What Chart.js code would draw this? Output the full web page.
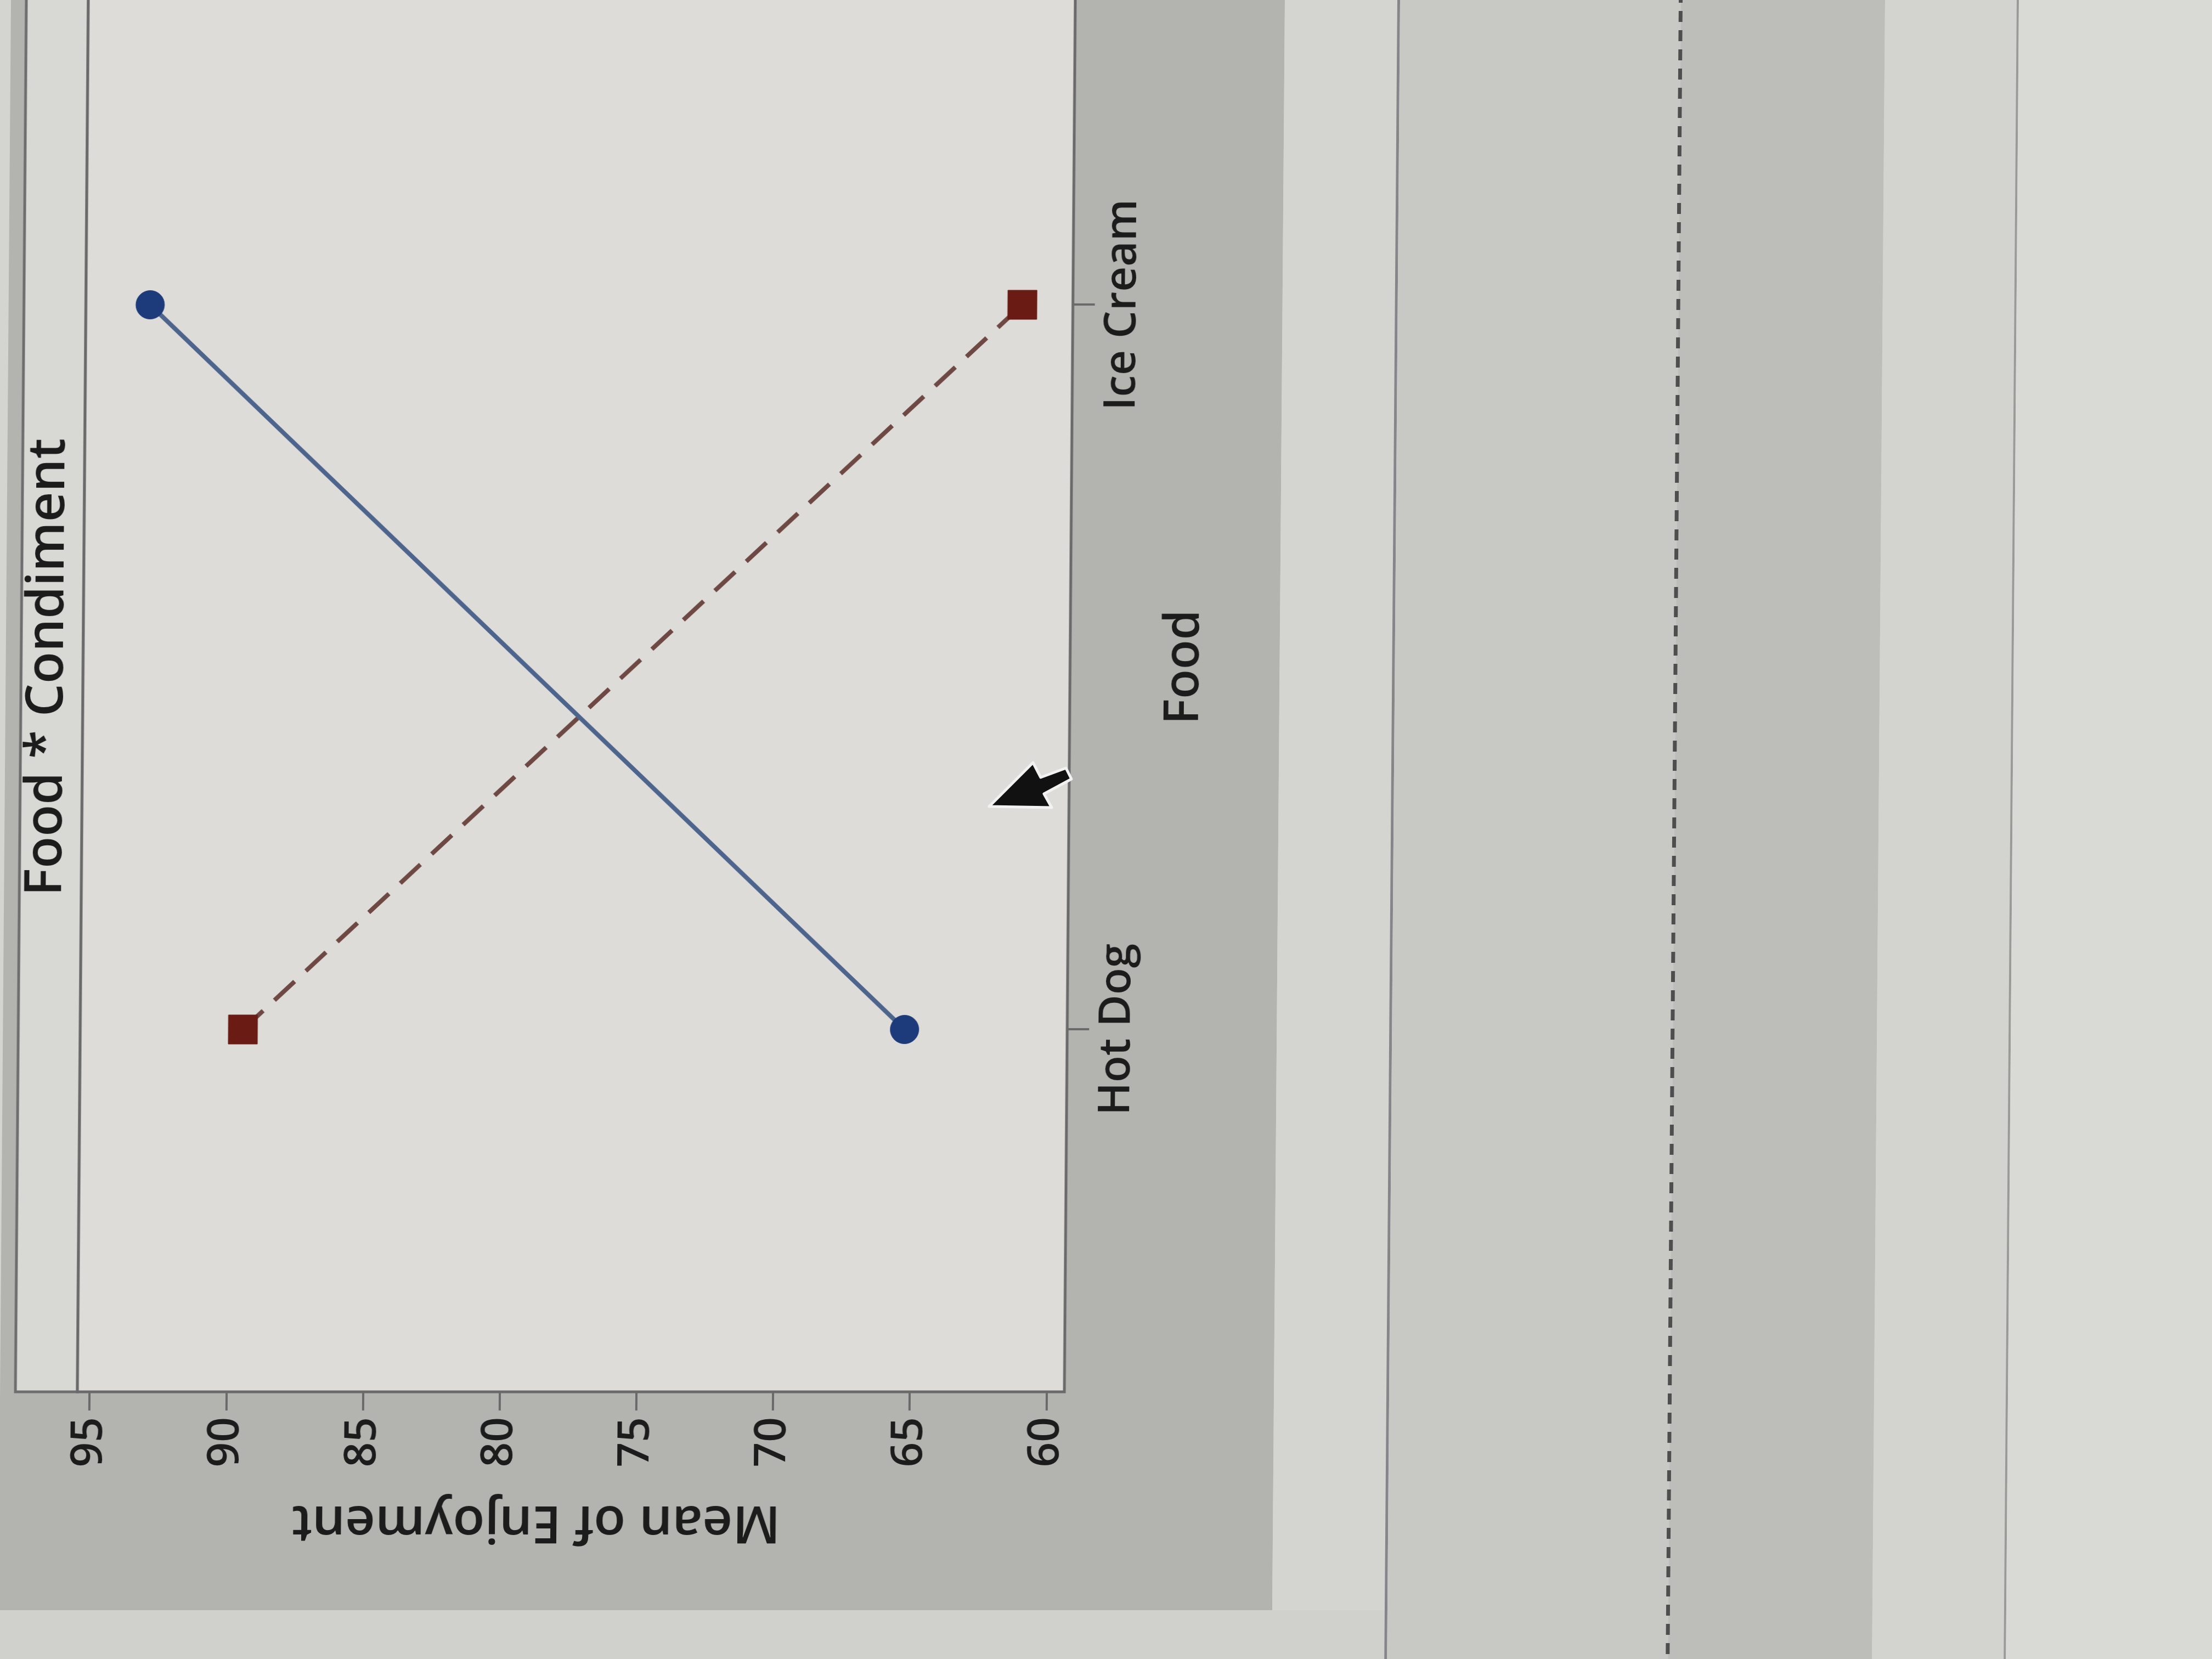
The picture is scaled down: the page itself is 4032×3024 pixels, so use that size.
<!DOCTYPE html>
<html>
<head>
<meta charset="utf-8">
<script src="https://cdn.jsdelivr.net/npm/chart.js@4.4.0/dist/chart.umd.min.js"></script>
<style>
  html, body { margin: 0; padding: 0; width: 4032px; height: 3024px; overflow: hidden; background: #d4d4d0; }
  #scene { position: absolute; left: 0; top: 0; width: 4032px; height: 3024px; transform-origin: 0 2550px; transform: skewX(-0.45deg); }
  .blk { position: absolute; }
  #chartCanvas { position: absolute; left: 0; top: 2935px; transform-origin: 0 0; transform: rotate(-90deg); background: #b3b3af; }
</style>
</head>
<body>
<div id="scene">
  <div class="blk" style="left:0;top:2935px;width:2530px;height:200px;background:#d0d0cc;"></div>
  <div class="blk" style="left:2527px;top:-50px;width:5px;height:3200px;background:#86868a;"></div>
  <div class="blk" style="left:2532px;top:-50px;width:512px;height:3200px;background:#c8c8c4;"></div>
  <div class="blk" style="left:3044px;top:-50px;width:372px;height:3200px;background:#bdbdb9;"></div>
  <div class="blk" style="left:3040px;top:-50px;width:7px;height:3200px;background:repeating-linear-gradient(to bottom,#4e4e4e 0 20px,transparent 20px 35px);"></div>
  <div class="blk" style="left:3416px;top:-50px;width:240px;height:3200px;background:#d3d3cf;"></div>
  <div class="blk" style="left:3656px;top:-50px;width:4px;height:3200px;background:#9a9a98;"></div>
  <div class="blk" style="left:3660px;top:-50px;width:400px;height:3200px;background:#d9d9d5;"></div>
  <canvas id="chartCanvas" width="3438" height="2322"></canvas>
</div>
<svg style="position:absolute;left:0;top:0" width="4032" height="3024">
  <polygon points="1803,1470 1883,1390 1897,1417 1943,1400 1953,1420 1903,1447 1917,1472" fill="#111" stroke="#f2f2f2" stroke-width="5" stroke-linejoin="round"/>
</svg>
<script>
// ---- data ----
const foods = ['Hot Dog', 'Ice Cream'];
const chocolateSauce = [65.3, 93.1];
const mustard = [89.5, 61.2];
const yTicks = [60, 65, 70, 75, 80, 85, 90, 95];
const titleText = 'Food * Condiment';
const xTitle = 'Food';
const yTitle = '     Mean of Enjoyment';

const FONT = "'Open Sans', 'Noto Sans', sans-serif";
const TXT = '#1c1c1c';

const panelPlugin = {
  id: 'panel',
  beforeDraw(chart) {
    const {ctx, chartArea: a} = chart;
    ctx.save();
    // title strip
    ctx.fillStyle = '#d8d8d4';
    ctx.fillRect(a.left, 28, a.right - a.left, a.top - 28);
    ctx.strokeStyle = '#6e6e6e';
    ctx.lineWidth = 5;
    ctx.strokeRect(a.left, 28, a.right - a.left, a.top - 28);
    // plot area
    ctx.fillStyle = '#dddcd8';
    ctx.fillRect(a.left, a.top, a.right - a.left, a.bottom - a.top);
    ctx.restore();
  },
  beforeDatasetsDraw(chart) {
    const {ctx, chartArea: a} = chart;
    ctx.save();
    ctx.strokeStyle = '#6a6a6a';
    ctx.lineWidth = 5;
    ctx.strokeRect(a.left, a.top, a.right - a.left, a.bottom - a.top);
    ctx.restore();
  }
};

new Chart(document.getElementById('chartCanvas'), {
  type: 'line',
  data: {
    labels: foods,
    datasets: [
      {
        label: 'Chocolate Sauce',
        data: chocolateSauce,
        yAxisID: 'y',
        borderColor: '#4d648c',
        borderWidth: 8,
        pointStyle: 'circle',
        pointRadius: 26,
        pointBackgroundColor: '#1d3a7a',
        pointBorderColor: '#1d3a7a',
        pointBorderWidth: 1,
        tension: 0
      },
      {
        label: 'Mustard',
        data: mustard,
        yAxisID: 'y',
        borderColor: '#6e4842',
        borderWidth: 8,
        borderDash: [50, 28],
        pointStyle: 'rect',
        pointRadius: 37.5,
        pointBackgroundColor: '#6a1b14',
        pointBorderColor: '#6a1b14',
        pointBorderWidth: 1,
        tension: 0
      }
    ]
  },
  options: {
    responsive: false,
    animation: false,
    devicePixelRatio: 1,
    layout: { padding: 0 },
    plugins: {
      legend: { display: false },
      tooltip: { enabled: false },
      title: {
        display: true,
        text: titleText,
        color: TXT,
        font: { family: FONT, size: 95, weight: '600', lineHeight: 1.2 },
        padding: { top: 20, bottom: 7 }
      }
    },
    scales: {
      x: {
        type: 'category',
        offset: true,
        border: { display: false },
        grid: { display: true, drawOnChartArea: false, drawTicks: true, tickLength: 40, color: '#6a6a6a', lineWidth: 4 },
        ticks: { color: TXT, font: { family: FONT, size: 80, weight: '600', lineHeight: 1.2 }, padding: 3, maxRotation: 0, autoSkip: false },
        title: { display: true, text: xTitle, color: TXT, font: { family: FONT, size: 88, weight: '600', lineHeight: 1.2 }, padding: { top: 0, bottom: 120 } },
        afterFit(s) { s.height = 382; }
      },
      y: {
        type: 'linear',
        position: 'left',
        min: 59.35,
        max: 95.45,
        border: { display: false },
        grid: { display: true, drawOnChartArea: false, drawTicks: true, tickLength: 34, color: '#6a6a6a', lineWidth: 4 },
        afterBuildTicks(s) { s.ticks = yTicks.map(v => ({ value: v })); },
        ticks: { color: TXT, font: { family: FONT, size: 80, weight: '600', lineHeight: 1.2 }, padding: 12 },
        title: { display: true, text: yTitle, color: TXT, font: { family: FONT, size: 95, weight: '600', lineHeight: 1.2 }, padding: { top: 105, bottom: 0 } },
        afterFit(s) { s.width = 398; }
      },
      yRight: {
        type: 'linear',
        position: 'right',
        display: true,
        min: 59.35,
        max: 95.45,
        border: { display: false },
        grid: { display: false, drawTicks: false },
        ticks: { display: false },
        afterFit(s) { s.width = 398; }
      }
    }
  },
  plugins: [panelPlugin]
});
</script>
</body>
</html>
